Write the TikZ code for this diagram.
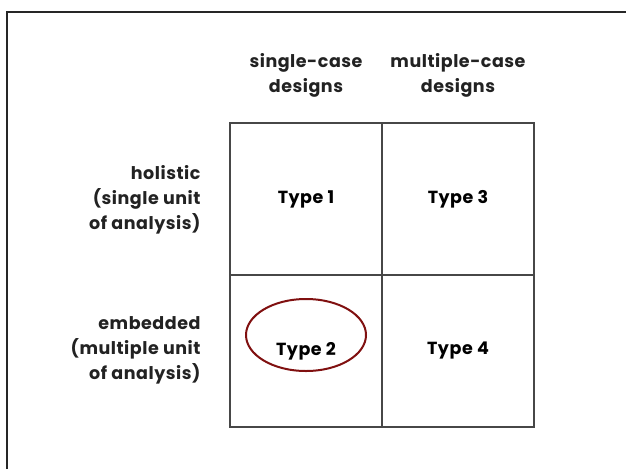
\documentclass[tikz,border=0pt]{standalone}
\usepackage{fontspec}
\setmainfont{Poppins}[LetterSpace=3]
\usepackage{tikz}
\usetikzlibrary{positioning,shapes.geometric}

\definecolor{ringred}{RGB}{128,16,16}
\definecolor{textgrey}{RGB}{34,34,34}

\tikzset{
    cell/.style={draw=black!72, line width=1.6pt, minimum size=152pt, inner sep=0pt},
    head/.style={align=center, text=textgrey},
    rowlab/.style={align=right, anchor=east, text=textgrey},
}

\begin{document}
\begin{tikzpicture}[x=1pt, y=-1pt, font=\fontsize{17.5}{25}\selectfont\bfseries]
    \useasboundingbox (0,0) rectangle (626,469);
    \draw[line width=1.5pt, black!85] (7,469) -- (7,12) -- (626,12);

    % column heads
    \node[head] (single) at (306,75) {single-case\\designs};
    \node[head] (multi) at (458,75) {multiple-case\\designs};

    % row labels
    \node[rowlab] (holistic) at (204,200) {holistic\\(single unit\\of analysis)};
    \node[rowlab] (embedded) at (204,350) {embedded\\(multiple unit\\of analysis)};

    % the four cells
    \node[cell] (type1) at (306,199) {Type 1};
    \node[cell] (type3) at (458,199) {Type 3};
    \node[cell] (type2) at (306,351) {Type 2};
    \node[cell] (type4) at (458,351) {Type 4};

    \node[ellipse, draw=ringred, line width=2pt, minimum width=120pt, minimum height=72pt] (ring) at (306,335) {};
\end{tikzpicture}
\end{document}
